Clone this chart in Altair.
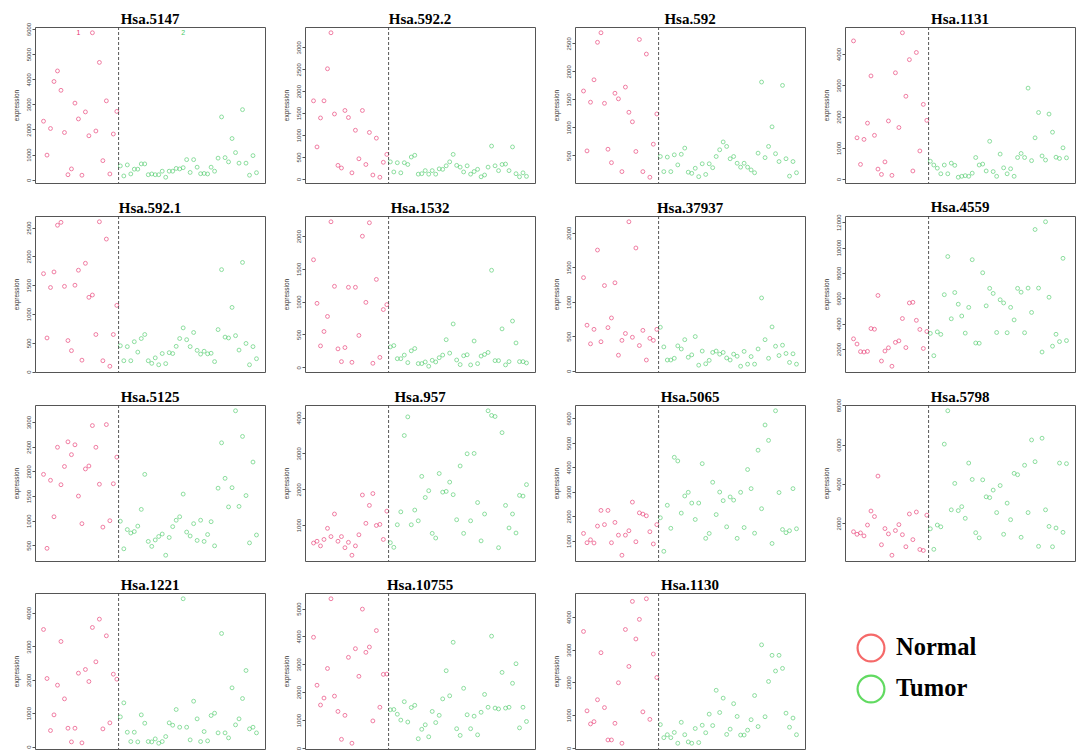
import altair as alt
import pandas as pd

# Expression of 15 genes across 62 colon tissue samples (22 normal, then 40 tumour)
N_NORMAL = 22
N_TUMOR = 40

genes = ["Hsa.5147", "Hsa.592.2", "Hsa.592", "Hsa.1131",
         "Hsa.592.1", "Hsa.1532", "Hsa.37937", "Hsa.4559",
         "Hsa.5125", "Hsa.957", "Hsa.5065", "Hsa.5798",
         "Hsa.1221", "Hsa.10755", "Hsa.1130"]

hsa_5147 = [2330, 980, 2040, 3910, 4330, 3560, 1880, 200, 430, 3050,
            2420, 180, 2700, 1750, 5850, 1940, 4670, 760, 3140, 230,
            1820, 2720,
            550, 150, 590, 230, 420, 420, 630, 630, 200, 230,
            200, 200, 340, 100, 340, 340, 450, 430, 480, 800,
            290, 800, 500, 240, 250, 230, 500, 340, 860, 2500,
            880, 710, 1640, 1080, 660, 2790, 660, 180, 960, 280]
hsa_592_2 = [1780, 730, 1390, 1780, 2510, 3330, 1480, 310, 250, 1560,
             1400, 140, 1110, 460, 1560, 330, 1060, 90, 930, 40,
             380, 560,
             390, 160, 370, 140, 370, 330, 500, 540, 110, 120,
             190, 110, 190, 110, 230, 220, 300, 390, 560, 310,
             270, 160, 300, 110, 170, 220, 50, 90, 270, 750,
             300, 190, 330, 340, 190, 730, 120, 50, 140, 60]
hsa_592 = [1650, 580, 1450, 1850, 2520, 2690, 1430, 610, 370, 1610,
           1510, 210, 1720, 1270, 1100, 570, 2570, 210, 2310, 110,
           700, 1240,
           480, 210, 470, 210, 510, 330, 520, 630, 200, 180,
           270, 120, 350, 160, 350, 280, 480, 600, 740, 660,
           440, 480, 360, 290, 360, 290, 240, 190, 540, 1810,
           460, 660, 1010, 530, 390, 1750, 440, 130, 390, 190]
hsa_1131 = [4420, 1320, 470, 1270, 1790, 3300, 1400, 320, 150, 550,
            1860, 120, 3400, 1650, 4680, 2650, 3820, 260, 4050, 900,
            2390, 1880,
            570, 450, 350, 170, 450, 170, 510, 440, 60, 90,
            110, 90, 190, 690, 450, 480, 260, 1210, 240, 90,
            800, 360, 170, 330, 90, 690, 820, 690, 2910, 590,
            1320, 2130, 740, 610, 2080, 1500, 700, 660, 1000, 680]
hsa_592_1 = [1700, 585, 1460, 1730, 2540, 2590, 1480, 540, 365, 1500,
             1760, 200, 1880, 1290, 1330, 645, 2600, 190, 2300, 95,
             645, 1150,
             450, 190, 435, 190, 520, 340, 575, 645, 190, 145,
             240, 120, 315, 140, 330, 315, 440, 575, 760, 555,
             435, 680, 370, 305, 355, 310, 320, 175, 730, 1770,
             600, 585, 1115, 625, 375, 1895, 490, 120, 435, 225]
hsa_1532 = [1640, 975, 325, 545, 775, 2220, 1235, 280, 85, 300,
            1220, 75, 1220, 485, 2000, 990, 2205, 60, 1340, 150,
            880, 955,
            310, 330, 130, 130, 185, 70, 250, 285, 55, 55,
            80, 15, 105, 80, 145, 185, 420, 215, 660, 110,
            40, 175, 190, 35, 400, 55, 170, 195, 225, 1480,
            100, 100, 585, 35, 85, 705, 370, 85, 85, 65]
hsa_37937 = [1350, 660, 390, 600, 1750, 420, 1235, 625, 765, 1275,
             225, 440, 540, 2160, 485, 1780, 365, 585, 155, 470,
             440, 600,
             630, 345, 155, 155, 180, 360, 315, 450, 195, 230,
             495, 80, 285, 100, 150, 265, 285, 240, 265, 185,
             155, 240, 210, 65, 280, 95, 205, 95, 315, 1055,
             450, 180, 635, 355, 220, 370, 250, 120, 245, 95]
hsa_4559 = [2800, 2390, 1790, 1760, 1810, 3610, 3560, 6220, 1050, 1840,
            2090, 640, 2520, 2640, 4400, 2110, 5630, 5680, 4260, 3540,
            2040, 3380,
            3230, 1470, 3350, 3150, 6280, 9290, 4380, 6450, 5530, 4600,
            3250, 5280, 9040, 2470, 2450, 8010, 5400, 6780, 6380, 3300,
            5880, 5630, 3280, 5280, 4290, 6780, 6480, 3280, 6800, 4880,
            11420, 6800, 1760, 12030, 6080, 2220, 3160, 2580, 9150, 2660]
hsa_5125 = [1940, 440, 1820, 1080, 2490, 1730, 2100, 2600, 2340, 2540,
            1500, 940, 2050, 2110, 2930, 2490, 1740, 870, 2950, 1000,
            1750, 2290,
            990, 430, 820, 750, 780, 890, 1230, 1940, 580, 480,
            610, 680, 730, 300, 660, 880, 1010, 1080, 1540, 770,
            690, 940, 600, 1010, 580, 720, 980, 490, 1660, 2580,
            1860, 1280, 1670, 3230, 1290, 2710, 1510, 550, 2190, 710]
hsa_957 = [500, 550, 420, 600, 910, 680, 1310, 550, 680, 370,
           520, 160, 420, 730, 1840, 1050, 1550, 1880, 990, 1020,
           600, 1390,
           510, 380, 1010, 1370, 3500, 4020, 1010, 1420, 1120, 2360,
           1770, 1960, 770, 640, 2440, 1920, 1940, 2200, 1850, 1150,
           2650, 770, 2990, 1120, 3000, 1630, 560, 1310, 4190, 4060,
           4030, 370, 3580, 1550, 920, 1310, 780, 1830, 1810, 2130]
hsa_5065 = [1300, 920, 1040, 910, 1600, 2240, 1660, 2240, 920, 1750,
            1230, 410, 1230, 1410, 2580, 960, 2140, 2090, 2020, 1370,
            870, 1660,
            1940, 570, 2450, 1510, 4410, 4260, 2130, 2830, 2980, 2540,
            1870, 2540, 4150, 1100, 1300, 3390, 2070, 2990, 2640, 1570,
            2790, 2660, 1100, 2980, 1540, 3910, 3130, 1310, 4700, 2310,
            5730, 5100, 890, 6310, 2970, 1460, 1330, 1410, 3130, 1490]
hsa_5798 = [1580, 1450, 1520, 1370, 1920, 2630, 2350, 4400, 920, 1740,
            1470, 390, 1640, 1940, 1430, 820, 2480, 1180, 2580, 680,
            630, 2420,
            1730, 690, 1920, 1830, 6020, 7710, 2690, 4030, 2650, 2850,
            2260, 5060, 4230, 1530, 1270, 4210, 3350, 3310, 3690, 2550,
            3920, 1450, 3030, 2190, 4540, 4470, 1300, 4950, 2550, 6230,
            5130, 840, 6320, 2690, 1850, 820, 1770, 5060, 1550, 5030]
hsa_1221 = [3510, 2040, 480, 950, 1840, 3150, 1430, 550, 140, 550,
            2200, 110, 2310, 1950, 3570, 2540, 3820, 530, 3320, 710,
            2170, 2020,
            890, 1310, 430, 150, 430, 140, 950, 700, 150, 140,
            230, 100, 150, 300, 710, 640, 1110, 580, 4430, 580,
            200, 1360, 830, 150, 450, 170, 930, 1000, 410, 3390,
            410, 260, 1760, 650, 830, 1440, 2280, 530, 580, 410]
hsa_10755 = [3970, 2250, 1540, 1790, 2850, 5350, 1860, 1310, 310, 1170,
             3250, 170, 3560, 2570, 4980, 3430, 3620, 970, 4210, 1460,
             2640, 2650,
             1370, 1380, 1210, 1000, 1660, 930, 1450, 1530, 330, 670,
             830, 400, 1310, 910, 1170, 1760, 2770, 1870, 3790, 690,
             450, 2140, 1190, 690, 1140, 470, 1280, 1920, 1460, 4010,
             1430, 1400, 2710, 1430, 1460, 2320, 3020, 720, 1460, 950]
hsa_1130 = [3560, 1130, 730, 800, 1470, 2910, 1230, 240, 240, 750,
            1990, 140, 3620, 2490, 4480, 3330, 3930, 1100, 4560, 870,
            2870, 2150,
            710, 310, 400, 310, 470, 140, 780, 400, 180, 140,
            590, 160, 690, 460, 1030, 680, 1760, 1080, 1520, 410,
            570, 1350, 960, 390, 390, 540, 860, 1600, 650, 3150,
            950, 2030, 2830, 2350, 2830, 2430, 1060, 630, 910, 400]

series = [hsa_5147, hsa_592_2, hsa_592, hsa_1131,
          hsa_592_1, hsa_1532, hsa_37937, hsa_4559,
          hsa_5125, hsa_957, hsa_5065, hsa_5798,
          hsa_1221, hsa_10755, hsa_1130]

# y-axis tick labels for each panel
ticks = [
    [0, 1000, 2000, 3000, 4000, 5000, 6000],
    [0, 500, 1000, 1500, 2000, 2500, 3000],
    [500, 1000, 1500, 2000, 2500],
    [0, 1000, 2000, 3000, 4000],
    [0, 500, 1000, 1500, 2000, 2500],
    [0, 500, 1000, 1500, 2000],
    [0, 500, 1000, 1500, 2000],
    [2000, 4000, 6000, 8000, 10000, 12000],
    [500, 1000, 1500, 2000, 2500, 3000],
    [1000, 2000, 3000, 4000],
    [1000, 2000, 3000, 4000, 5000, 6000],
    [2000, 4000, 6000, 8000],
    [0, 1000, 2000, 3000, 4000],
    [0, 1000, 2000, 3000, 4000, 5000],
    [0, 1000, 2000, 3000, 4000],
]

# class-label annotations written in the first panel
note_sample = [11, 41]
note_value = [5830, 5830]
note_text = ["1", "2"]
note_tissue = ["Normal", "Tumor"]

legend_labels = ["Normal", "Tumor"]
legend_rings = ["#F22B2B", "#1FCB1F"]

POINT_RANGE = ["#E8336E", "#4BCB68"]
W, H = 230, 156
SERIF = "Liberation Serif"
SANS = "Liberation Sans"

n_total = N_NORMAL + N_TUMOR
x_pad = 0.04 * (n_total - 1)
x_scale = alt.Scale(domain=[1 - x_pad, n_total + x_pad], nice=False, zero=False)
tissue_scale = alt.Scale(domain=["Normal", "Tumor"], range=POINT_RANGE)


def gene_panel(name, values, tick_values, with_notes=False):
    lo, hi = min(values), max(values)
    pad = 0.04 * (hi - lo)
    y_scale = alt.Scale(domain=[lo - pad, hi + pad], nice=False, zero=False)
    df = pd.DataFrame({
        "sample": list(range(1, n_total + 1)),
        "expression": values,
        "tissue": ["Normal"] * N_NORMAL + ["Tumor"] * N_TUMOR,
    })
    y_axis = alt.Axis(values=tick_values, title="expression", format="d",
                      labelAngle=270, labelAlign="center", labelBaseline="bottom",
                      labelFontSize=6, titleFontSize=6.5, titleFontWeight="normal",
                      labelFont=SANS, titleFont=SANS, labelColor="#444",
                      titleColor="#333", tickSize=3, tickColor="#555",
                      labelPadding=1, titlePadding=6, domain=False, grid=False)
    points = alt.Chart(df).mark_point(filled=False, size=15, strokeWidth=0.9).encode(
        x=alt.X("sample:Q", scale=x_scale, axis=None),
        y=alt.Y("expression:Q", scale=y_scale, axis=y_axis),
        color=alt.Color("tissue:N", scale=tissue_scale, legend=None),
    )
    split = alt.Chart(pd.DataFrame({"sample": [N_NORMAL + 0.5]})).mark_rule(
        strokeDash=[3, 2], color="#444", strokeWidth=0.9
    ).encode(x=alt.X("sample:Q", scale=x_scale, axis=None))
    layers = [points, split]
    if with_notes:
        notes = pd.DataFrame({"sample": note_sample, "expression": note_value,
                              "label": note_text, "tissue": note_tissue})
        layers.append(alt.Chart(notes).mark_text(fontSize=7, font=SANS).encode(
            x=alt.X("sample:Q", scale=x_scale, axis=None),
            y=alt.Y("expression:Q", scale=y_scale, axis=y_axis),
            text="label:N",
            color=alt.Color("tissue:N", scale=tissue_scale, legend=None),
        ))
    # a top tick label sitting on the frame edge pushes the title up; pull it back
    top_gap = (hi + pad - max(tick_values)) / (hi + pad - (lo - pad)) * H
    title_offset = 0 if top_gap > 7 else -round(7 - top_gap)
    return alt.layer(*layers).properties(
        width=W, height=H,
        title=alt.TitleParams(text=name, font=SERIF, fontSize=15, fontWeight="bold",
                              color="#000", anchor="middle", frame="group",
                              offset=title_offset),
    )


def legend_panel():
    df = pd.DataFrame({"label": legend_labels, "ring": legend_rings})
    y = alt.Y("label:N", axis=None,
              scale=alt.Scale(type="point", domain=legend_labels, range=[55, 96], padding=0))
    rings = alt.Chart(df).mark_point(filled=False, shape="circle", size=720,
                                     strokeWidth=2.2).encode(
        x=alt.value(49), y=y, color=alt.Color("ring:N", scale=None))
    words = alt.Chart(df).mark_text(align="left", baseline="middle", font=SERIF,
                                    fontSize=24.5, fontWeight="bold", color="#000").encode(
        x=alt.value(74), y=y, text="label:N")
    return alt.layer(rings, words).properties(
        width=190, height=H, view=alt.ViewBackground(stroke=None),
        title=alt.TitleParams(text=" ", font=SERIF, fontSize=15, offset=0),
    )


panels = [gene_panel(g, v, t, with_notes=(i == 0))
          for i, (g, v, t) in enumerate(zip(genes, series, ticks))]

rows = [alt.hconcat(*panels[r * 4:(r + 1) * 4], spacing=16) for r in range(3)]
rows.append(alt.hconcat(*panels[12:15], legend_panel(), spacing=16))

chart = alt.vconcat(*rows, spacing=15).properties(
    padding={"left": 12, "top": 11, "right": 2, "bottom": 0},
    background="white",
).configure_view(stroke="#555", strokeWidth=1)

chart.save("out.html", embed_options={"renderer": "svg", "actions": False})
